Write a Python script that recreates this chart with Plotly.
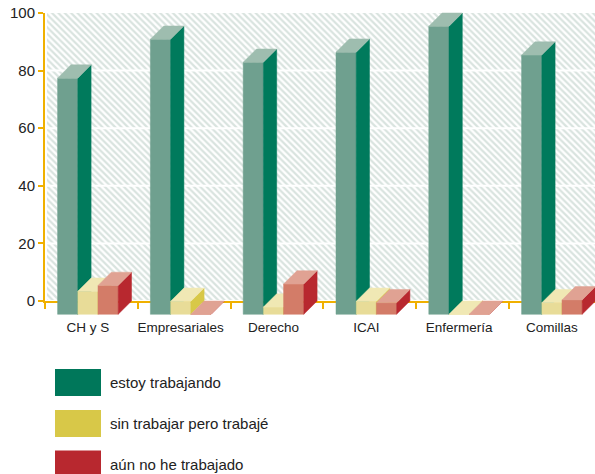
import plotly.graph_objects as go

# ---------------- data ----------------
categories = ["CH y S", "Empresariales", "Derecho", "ICAI", "Enfermería", "Comillas"]
estoy_trabajando = [82, 95.5, 87.5, 91, 100, 90]
sin_trabajar_pero_trabaje = [8, 4.5, 2.5, 4.5, 0, 4]
aun_no_he_trabajado = [10, 0, 10.5, 4, 0, 5]
series_names = ["estoy trabajando", "sin trabajar pero trabajé", "aún no he trabajado"]
y_ticks = [0, 20, 40, 60, 80, 100]
grid_values = [20, 40, 60, 80]

# ---------------- styles ----------------
legend_colors = ["#00775a", "#d8c848", "#b8282f"]
face_colors = [
    {"front": "#6fa08f", "side": "#007a5c", "top": "#9ebdaf"},
    {"front": "#e8dc98", "side": "#d8c848", "top": "#f0e8b4"},
    {"front": "#d37c68", "side": "#b8282f", "top": "#e0a293"},
]
ORANGE = "#f0b000"
TEXT = "#222222"
FONT = "Liberation Sans, Arial, Helvetica, sans-serif"

# body margin is removed in the page, so figure pixels == page pixels
OFF = 0
W, H = 595 - OFF, 474 - OFF
ML, MR, MT, MB = 45 - OFF, 0, 6, 157
plot_w = W - ML - MR
plot_h = H - MT - MB
px_per_cat = 92.8
px_per_unit = 2.88
wall_zero_px = 301.0 - OFF   # figure pixel of value 0 on back wall
wall_top_px = 13.0 - OFF


def paper_x(page_px):
    return (page_px - OFF - ML) / plot_w


def paper_y(page_py):
    return (MT + plot_h - (page_py - OFF)) / plot_h


x_range = [-0.5, -0.5 + plot_w / px_per_cat]
y2_range = [(wall_zero_px - (MT + plot_h)) / px_per_unit, (wall_zero_px - MT) / px_per_unit]
wall_domain = [(MT + plot_h - wall_zero_px) / plot_h, (MT + plot_h - wall_top_px) / plot_h]

depth_px = 13.3
dx = depth_px / px_per_cat
dy = depth_px / px_per_unit
bw = 20.2 / px_per_cat
group_off = -3.5 / px_per_cat
base = -dy

series_values = [estoy_trabajando, sin_trabajar_pero_trabaje, aun_no_he_trabajado]

fig = go.Figure()

# invisible trace so the wall subplot (orange axes) exists
fig.add_trace(go.Scatter(x=[None], y=[None], xaxis="x", yaxis="y", showlegend=False, hoverinfo="skip"))

# hatched back wall
hx0 = -0.5 + 1.5 / px_per_cat
hx1 = x_range[1]
hy0 = 1.0 / px_per_unit
fig.add_trace(go.Bar(
    x=[(hx0 + hx1) / 2], y=[100 - hy0], base=[hy0], width=[hx1 - hx0],
    marker=dict(color="white", line=dict(width=0),
                pattern=dict(shape="\\", fgcolor="#b3c8bf", bgcolor="white", size=4.5, solidity=0.5)),
    xaxis="x2", yaxis="y2", showlegend=False, hoverinfo="skip",
))

# white gridlines on the wall
gx, gy = [], []
for g in grid_values:
    gx += [hx0, hx1, None]
    gy += [g, g, None]
fig.add_trace(go.Scatter(x=gx, y=gy, mode="lines", line=dict(color="white", width=2),
                         xaxis="x2", yaxis="y2", showlegend=False, hoverinfo="skip"))

# 3D bars as polygons
for j, vals in enumerate(series_values):
    faces = {"front": ([], []), "side": ([], []), "top": ([], [])}
    for i, v in enumerate(vals):
        x0 = i + group_off + (j - 1.5) * bw
        x1 = x0 + bw
        t = base + v
        fx, fy = faces["front"]
        fx += [x0, x1, x1, x0, x0, None]
        fy += [base, base, t, t, base, None]
        sx, sy = faces["side"]
        sx += [x1, x1 + dx, x1 + dx, x1, x1, None]
        sy += [base, base + dy, t + dy, t, base, None]
        tx, ty = faces["top"]
        tx += [x0, x1, x1 + dx, x0 + dx, x0, None]
        ty += [t, t, t + dy, t + dy, t, None]
    for face in ["front", "side", "top"]:
        c = face_colors[j][face]
        fig.add_trace(go.Scatter(
            x=faces[face][0], y=faces[face][1], mode="lines", fill="toself",
            fillcolor=c, line=dict(color=c, width=0.5),
            xaxis="x2", yaxis="y2", showlegend=False, hoverinfo="skip", name=series_names[j],
        ))

# custom legend (positions in page pixels)
legend_y = [382.5, 423.5, 464.0]
shapes = []
annotations = []
for j, name in enumerate(series_names):
    cy = legend_y[j]
    shapes.append(dict(type="rect", xref="paper", yref="paper",
                       x0=paper_x(55), x1=paper_x(101),
                       y0=paper_y(cy + 13.5), y1=paper_y(cy - 13.5),
                       fillcolor=legend_colors[j], line=dict(width=0), layer="above"))
    annotations.append(dict(xref="paper", yref="paper", x=paper_x(108), y=paper_y(cy),
                            xanchor="left", yanchor="middle", showarrow=False, text=name,
                            font=dict(family=FONT, size=15, color=TEXT)))

fig.update_layout(
    width=W, height=H,
    margin=dict(l=ML, r=MR, t=MT, b=MB, pad=0, autoexpand=False),
    paper_bgcolor="white", plot_bgcolor="rgba(0,0,0,0)",
    showlegend=False,
    hovermode=False,
    font=dict(family=FONT, color=TEXT),
    xaxis=dict(domain=[0, 1], anchor="y", range=x_range, automargin=False,
               tickmode="array", tickvals=[i - 0.5 for i in range(len(categories))],
               ticks="outside", ticklen=6, tickwidth=2, tickcolor=ORANGE,
               showticklabels=False, showline=True, linecolor=ORANGE, linewidth=2,
               showgrid=False, zeroline=False, fixedrange=True),
    yaxis=dict(domain=wall_domain, anchor="x", range=[0, 100], automargin=False,
               tickmode="array", tickvals=y_ticks,
               ticks="outside", ticklen=5, tickwidth=2, tickcolor=ORANGE,
               showline=True, linecolor=ORANGE, linewidth=2,
               showgrid=False, zeroline=False, ticklabeloverflow="allow",
               tickfont=dict(family=FONT, size=15, color=TEXT), fixedrange=True),
    xaxis2=dict(domain=[0, 1], anchor="y2", range=x_range, automargin=False,
                tickmode="array", tickvals=[i + group_off for i in range(len(categories))],
                ticktext=categories, ticks="", showline=False, showgrid=False, zeroline=False,
                tickfont=dict(family=FONT, size=13.5, color=TEXT), fixedrange=True),
    yaxis2=dict(domain=[0, 1], anchor="x2", range=y2_range, visible=False, automargin=False,
                fixedrange=True),
    shapes=shapes,
    annotations=annotations,
    bargap=0,
)

fig.write_html("out.html",
               config={"displayModeBar": False, "staticPlot": True},
               post_script="document.body.style.margin='0';document.body.style.overflow='hidden';")
